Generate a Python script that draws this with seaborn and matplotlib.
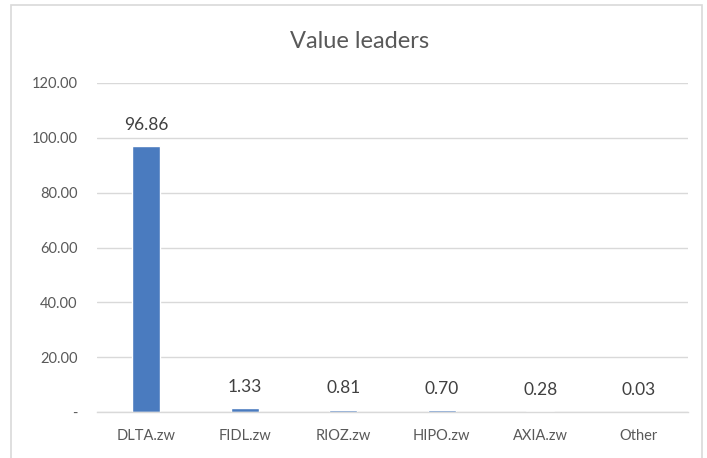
import matplotlib
matplotlib.use("Agg")
import matplotlib.pyplot as plt
import seaborn as sns
import pandas as pd
from matplotlib.patches import Rectangle

categories = ["DLTA.zw", "FIDL.zw", "RIOZ.zw", "HIPO.zw", "AXIA.zw", "Other"]
values = [96.86, 1.33, 0.81, 0.70, 0.28, 0.03]
yticks = [0, 20, 40, 60, 80, 100, 120]
ytick_labels = ["-", "20.00", "40.00", "60.00", "80.00", "100.00", "120.00"]

sns.set_theme(style="white")
plt.rcParams["font.family"] = ["Lato", "DejaVu Sans"]

df = pd.DataFrame({"name": categories, "value": values})

fig = plt.figure(figsize=(7.07, 4.58), dpi=100)
fig.patch.set_facecolor("white")
# outer chart border
fig.add_artist(Rectangle((11 / 707, -0.05), (702 - 11) / 707, 1.05 - 5 / 458,
                         transform=fig.transFigure, fill=False,
                         edgecolor="#d9d9d9", linewidth=1.2))

ax = fig.add_axes([97 / 707, 1 - 412 / 458, (688 - 97) / 707, (412 - 83) / 458])
sns.barplot(data=df, x="name", y="value", color="#4a7bbf", width=0.285,
            saturation=1, ax=ax)

ax.set_ylim(0, 120)
ax.set_xlim(-0.5, len(categories) - 0.5)
ax.set_yticks(yticks)
ax.set_yticklabels(ytick_labels)
ax.yaxis.grid(True, color="#d9d9d9", linewidth=1)
ax.set_axisbelow(True)
for s in ["top", "right", "left"]:
    ax.spines[s].set_visible(False)
ax.spines["bottom"].set_color("#d9d9d9")
ax.spines["bottom"].set_linewidth(1)
ax.tick_params(axis="both", length=0, colors="#595959", labelsize=10.5)
ax.tick_params(axis="x", pad=12)
ax.tick_params(axis="y", pad=14)
ax.set_xlabel("")
ax.set_ylabel("")

for i, v in enumerate(values):
    ax.annotate(f"{v:.2f}", (i, v), xytext=(0, 15.5), textcoords="offset points",
                ha="center", va="center", fontsize=12.5, color="#404040")

fig.text(360 / 707, 1 - 42 / 458, "Value leaders", ha="center", va="center",
         fontsize=17, color="#595959")

fig.savefig("out.png", dpi=100)
